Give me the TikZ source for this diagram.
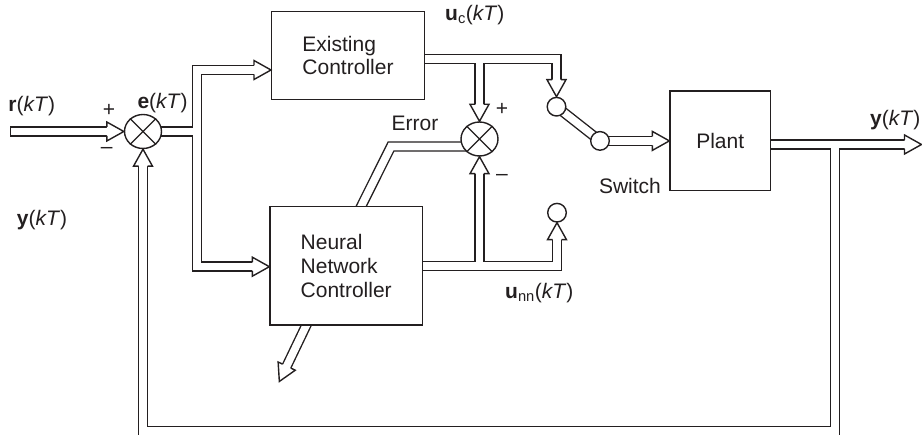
\documentclass[tikz,border=0pt]{standalone}
\usepackage{fontspec}
\setmainfont{Liberation Sans}
\usetikzlibrary{calc,shapes.geometric}
\definecolor{ink}{HTML}{231F20}
\newcommand\lbl{\fontsize{21}{23.8}\selectfont}
\pgfdeclarelayer{bg}
\pgfsetlayers{bg,main}
\tikzset{
  pipeout/.style={draw=ink, line width=10.4pt, line join=miter, line cap=butt},
  pipein/.style={draw=white, line width=7.6pt, line join=miter, line cap=butt},
  toarrow/.style={shorten >=15.5pt},
  blk/.style={draw=ink, line width=1.4pt, fill=white, rectangle, inner sep=0pt, align=left, font=\lbl, text=ink},
  sumnode/.style={draw=ink, line width=1.4pt, fill=white, ellipse, minimum width=37pt, minimum height=34pt, inner sep=0pt},
  swnode/.style={draw=ink, line width=1.4pt, fill=white, circle, minimum size=18.6pt, inner sep=0pt},
  lab/.style={inner sep=0pt, font=\lbl, text=ink},
  headst/.style={draw=ink, fill=white, line width=1.4pt, line join=miter},
  crossst/.style={draw=ink, line width=1.2pt},
}
\newcommand\dhead[2]{\draw[headst, shift={(#1)}, rotate=#2] (-17,4.5) -- (-17,9.5) -- (0,0) -- (-17,-9.5) -- (-17,-4.5);}
\newcommand\pipenet[1]{%
  \path[#1, toarrow] (rin) -- (s1.west);
  \path[#1] (s1.center) -- (j1);
  \path[#1, toarrow] (j1) |- (ecin);
  \path[#1, toarrow] (j1) |- (nnin);
  \path[#1, toarrow] (ecout) -| (sw1.north);
  \path[#1, toarrow] (s2 |- ecout) -- (s2.north);
  \path[#1, toarrow] (nn.center) -| (sw3.south);
  \path[#1, toarrow] (s2 |- nn.center) -- (s2.south);
  \path[#1] ($(s2)+(0,7.5)$) -- (errc) -- ($(errc)!1.15!(errb)$);
  \path[#1, toarrow] ($(nnd1)!-0.3!(nntip)$) -- (nntip);
  \path[#1] (sw1.center) -- (sw2.center);
  \path[#1, toarrow] (sw2.center) -- (plin);
  \path[#1, toarrow] (plout) -- (yout);
  \path[#1, toarrow] (fbr) -- (fbd) -| (s1.south);
}
\begin{document}
\begin{tikzpicture}[x=1pt,y=-1pt]
\useasboundingbox (0,0) rectangle (922,435);
% blocks
\node[blk, minimum width=152.6pt, minimum height=87.6pt] (ec) at (348,55.5) {Existing\\Controller};
\node[blk, minimum width=152.3pt, minimum height=118.3pt] (nn) at (346.2,265.9) {Neural\\Network\\Controller};
\node[blk, minimum width=100.3pt, minimum height=99.7pt] (plant) at (720.2,140.9) {Plant};
% summing junctions and switch contacts
\node[sumnode] (s1) at (143,131.5) {};
\node[sumnode] (s2) at (479.5,139) {};
\node[swnode] (sw1) at (556.5,106.7) {};
\node[swnode] (sw2) at (600,140.9) {};
\node[swnode] (sw3) at (557,212.7) {};
\draw[crossst] (s1.45) -- (s1.225) (s1.135) -- (s1.315);
\draw[crossst] (s2.45) -- (s2.225) (s2.135) -- (s2.315);
% route points
\coordinate (rin) at (10,131.5);
\coordinate (j1) at (197,131.5);
\coordinate (ecin) at ($(ec.west)+(0,14.5)$);
\coordinate (nnin) at ($(nn.west)+(0,0.8)$);
\coordinate (ecout) at ($(ec.center)+(0,3.5)$);
\coordinate (errc) at (391,146.5);
\coordinate (errb) at ($(nn.north west)+(92,0)$);
\coordinate (nnd1) at ($(nn.south west)+(36.7,0)$);
\coordinate (nntip) at ($(nn.south west)+(10,55.7)$);
\coordinate (plin) at (sw2 -| plant.west);
\coordinate (plout) at ($(plant.center)+(0,3.6)$);
\coordinate (yout) at (921.5,144.5);
\coordinate (fbr) at (835,144.5);
\coordinate (fbd) at (835,431);
% double-line connectors
\begin{pgfonlayer}{bg}
  \pipenet{pipeout}
  \pipenet{pipein}
  \draw[ink, line width=1.4pt] ($(rin)+(0.7,-5.2)$) -- ($(rin)+(0.7,5.2)$);
\end{pgfonlayer}
% hollow arrow heads
\dhead{s1.west}{0}
\dhead{ecin}{0}
\dhead{nnin}{0}
\dhead{sw1.north}{-90}
\dhead{s2.north}{-90}
\dhead{sw3.south}{90}
\dhead{s2.south}{90}
\dhead{nntip}{-115.6}
\dhead{plin}{0}
\dhead{yout}{0}
\dhead{s1.south}{90}
% labels
\node[lab, anchor=west] (lr) at (8.3,106) {\textbf{r}(\textit{kT})};
\node[lab, anchor=west] (le) at (137.3,102.7) {\textbf{e}(\textit{kT})};
\node[lab, anchor=west] (lyl) at (16.7,220) {\textbf{y}(\textit{kT})};
\node[lab, anchor=west] (lyr) at (870,120.5) {\textbf{y}(\textit{kT})};
\node[lab, anchor=west] (luc) at (445,15) {\textbf{u}\textsubscript{c}(\textit{kT})};
\node[lab, anchor=west] (lunn) at (505,292.7) {\textbf{u}\textsubscript{nn}(\textit{kT})};
\node[lab] (lerr) at (415,123) {Error};
\node[lab] (lsw) at (630,186) {Switch};
\node[lab] (p1) at (109,110) {+};
\node[lab] (m1) at (106.7,150.7) {–};
\node[lab] (p2) at (502,109) {+};
\node[lab] (m2) at (502,177) {–};
\end{tikzpicture}
\end{document}
